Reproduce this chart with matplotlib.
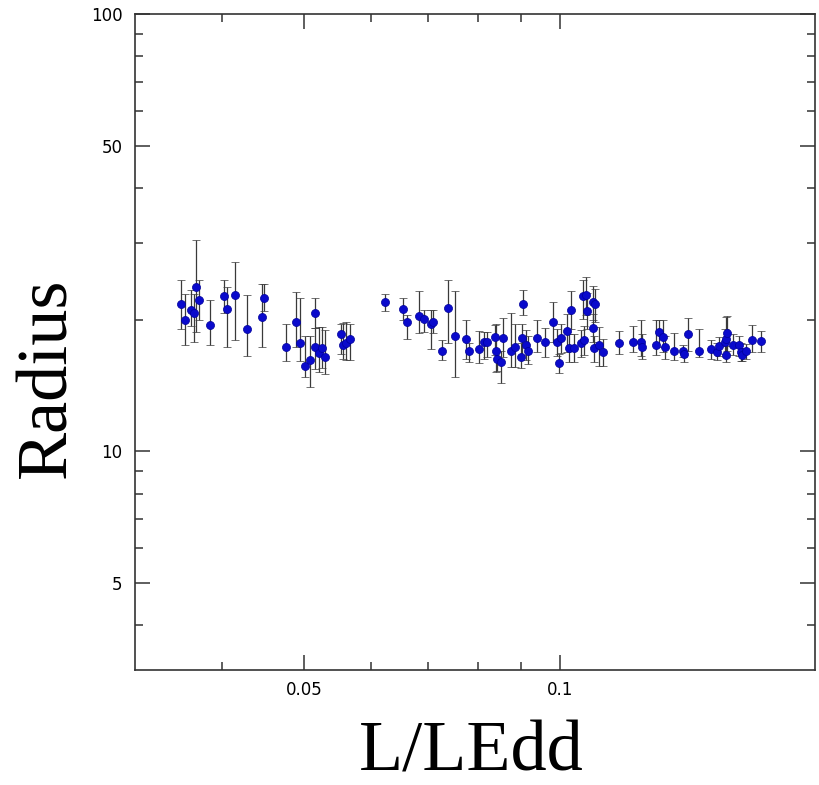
# -*- coding: utf-8 -*-

import numpy as np
import matplotlib
matplotlib.use("Agg")
import matplotlib.pyplot as plt

# Daten
# L/LEdd, Radius, untere und obere Grenze des Fehlerbalkens
lum = [0.0358, 0.0362, 0.0368, 0.0371, 0.0373, 0.0376, 0.0387, 0.0402, 0.0406, 0.0415,
       0.0428, 0.0446, 0.0449, 0.0476, 0.0489, 0.0494, 0.0515, 0.0501, 0.0508, 0.0515,
       0.0521, 0.0525, 0.0529, 0.0552, 0.0556, 0.0560, 0.0566, 0.0623, 0.0654, 0.0661,
       0.0683, 0.0691, 0.0705, 0.0709, 0.0726, 0.0738, 0.0752, 0.0775, 0.0781, 0.0803,
       0.0814, 0.0821, 0.0839, 0.0840, 0.0844, 0.0852, 0.0856, 0.0875, 0.0885, 0.0899,
       0.0903, 0.0905, 0.0912, 0.0916, 0.0940, 0.0960, 0.0982, 0.0993, 0.0996, 0.1002,
       0.1020, 0.1025, 0.1030, 0.1039, 0.1058, 0.1063, 0.1068, 0.1073, 0.1077, 0.1092,
       0.1100, 0.1092, 0.1097, 0.1110, 0.1125, 0.1174, 0.1217, 0.1245, 0.1250, 0.1298,
       0.1306, 0.1322, 0.1330, 0.1362, 0.1396, 0.1400, 0.1415, 0.1458, 0.1505, 0.1531,
       0.1539, 0.1562, 0.1567, 0.1574, 0.1569, 0.1596, 0.1625, 0.1632, 0.1637, 0.1654,
       0.1684, 0.1723]
radius = [21.7, 20.0, 21.0, 20.7, 23.8, 22.2, 19.4, 22.6, 21.2, 22.8,
          19.0, 20.3, 22.4, 17.3, 19.8, 17.7, 20.7, 15.7, 16.2, 17.3,
          16.8, 17.2, 16.4, 18.5, 17.5, 17.7, 18.1, 21.9, 21.1, 19.8,
          20.4, 20.1, 19.6, 19.8, 17.0, 21.3, 18.4, 18.1, 17.0, 17.1,
          17.8, 17.8, 18.3, 17.0, 16.3, 16.0, 18.2, 17.0, 17.3, 16.4,
          18.2, 21.7, 17.5, 17.0, 18.2, 17.8, 19.8, 17.8, 15.9, 18.2,
          18.8, 17.2, 21.0, 17.2, 17.7, 22.6, 18.0, 22.8, 20.9, 22.0,
          21.7, 19.1, 17.2, 17.5, 16.9, 17.7, 17.8, 17.8, 17.3, 17.5,
          18.7, 18.3, 17.3, 17.0, 17.0, 16.7, 18.5, 17.0, 17.1, 16.9,
          17.4, 17.8, 18.1, 18.6, 16.6, 17.5, 17.5, 16.9, 16.6, 17.0,
          18.0, 17.9]
r_lo = [19.0, 17.5, 19.3, 17.8, 18.7, 20.0, 17.5, 20.7, 17.3, 18.0,
        16.5, 17.3, 20.9, 16.1, 17.3, 16.1, 19.1, 14.8, 14.0, 15.4,
        15.2, 15.5, 15.0, 16.7, 16.3, 16.2, 16.2, 20.9, 20.0, 18.1,
        18.6, 18.7, 17.1, 18.6, 16.2, 17.7, 14.8, 16.3, 16.0, 15.9,
        16.3, 16.4, 16.6, 15.2, 15.3, 14.3, 16.4, 15.6, 15.6, 15.5,
        16.6, 20.5, 16.2, 15.8, 16.9, 16.4, 17.8, 16.5, 15.1, 16.8,
        16.9, 16.0, 19.0, 16.0, 16.4, 20.1, 16.6, 20.5, 19.0, 20.0,
        19.8, 17.8, 16.0, 15.7, 15.7, 16.7, 16.9, 16.5, 16.3, 16.6,
        17.3, 16.9, 16.3, 16.2, 16.4, 16.0, 17.0, 16.4, 16.3, 16.2,
        16.5, 16.7, 16.4, 17.0, 16.0, 16.6, 16.5, 16.1, 16.1, 16.3,
        16.9, 16.9]
r_hi = [24.7, 22.9, 23.4, 22.9, 30.4, 24.6, 22.2, 24.6, 23.7, 27.1,
        22.8, 24.1, 24.1, 19.5, 23.1, 22.4, 22.4, 18.4, 18.4, 19.1,
        19.2, 19.2, 18.9, 19.5, 19.7, 19.8, 19.6, 22.9, 22.4, 20.5,
        23.2, 21.0, 21.0, 21.0, 18.0, 24.7, 23.2, 20.0, 17.7, 18.8,
        18.7, 18.7, 19.4, 19.5, 17.0, 17.0, 20.2, 20.7, 19.6, 17.7,
        19.6, 23.4, 18.9, 18.4, 20.0, 19.1, 21.9, 19.0, 16.7, 19.6,
        20.6, 18.5, 23.3, 18.5, 18.9, 24.7, 19.3, 25.1, 23.0, 23.9,
        23.5, 20.6, 18.4, 19.2, 18.1, 18.8, 19.3, 20.0, 18.5, 20.0,
        20.0, 20.0, 18.4, 18.6, 17.5, 17.0, 20.2, 19.0, 18.0, 17.7,
        18.3, 19.0, 20.3, 20.4, 17.4, 18.5, 18.4, 17.7, 17.2, 17.6,
        19.4, 18.8]

x = np.array(lum)
y = np.array(radius)
yerr = [y - np.array(r_lo), np.array(r_hi) - y]

fig = plt.figure(figsize=(8.19, 7.85), dpi=100)
ax = fig.add_axes([0.1648, 0.1465, 0.8303, 0.8357])

ax.errorbar(x, y, yerr=yerr, fmt="o", ms=5.8, color="#0a0acc", mec="#00009a", mew=0.5,
            ecolor="#3a3a3a", elinewidth=0.9, capsize=3.0, capthick=0.9)

ax.set_xscale("log")
ax.set_yscale("log")
ax.set_xlim(10 ** -1.5, 0.1995)
ax.set_ylim(10 ** 0.5, 100)

# Ticks
ax.set_xticks([0.05, 0.1], ["0.05", "0.1"])
ax.set_xticks([0.04, 0.06, 0.07, 0.08, 0.09], minor=True)
ax.set_yticks([5, 10, 50, 100], ["5", "10", "50", "100"])
ax.set_yticks([4, 6, 7, 8, 9, 20, 30, 40, 60, 70, 80, 90], minor=True)
ax.xaxis.set_minor_formatter(plt.NullFormatter())
ax.yaxis.set_minor_formatter(plt.NullFormatter())
ax.tick_params(which="both", direction="in", top=True, right=True, width=1.1,
               color="#333333", labelsize=12)
ax.tick_params(which="major", length=11)
ax.tick_params(which="minor", length=6)
ax.tick_params(axis="x", pad=8)
ax.tick_params(axis="y", pad=9)
for s in ax.spines.values():
    s.set_linewidth(1.2)
    s.set_color("#333333")

# Achsenbeschriftung
font = {"family": "Liberation Serif", "size": 52, "color": "black"}
fig.text(471 / 819, 0.0, "L/LEdd", ha="center", va="bottom", fontdict=font)
fig.text(48 / 819, 1 - 378 / 785, "Radius", ha="center", va="center", rotation=90,
         fontdict=font)

fig.savefig("out.png", dpi=100)
